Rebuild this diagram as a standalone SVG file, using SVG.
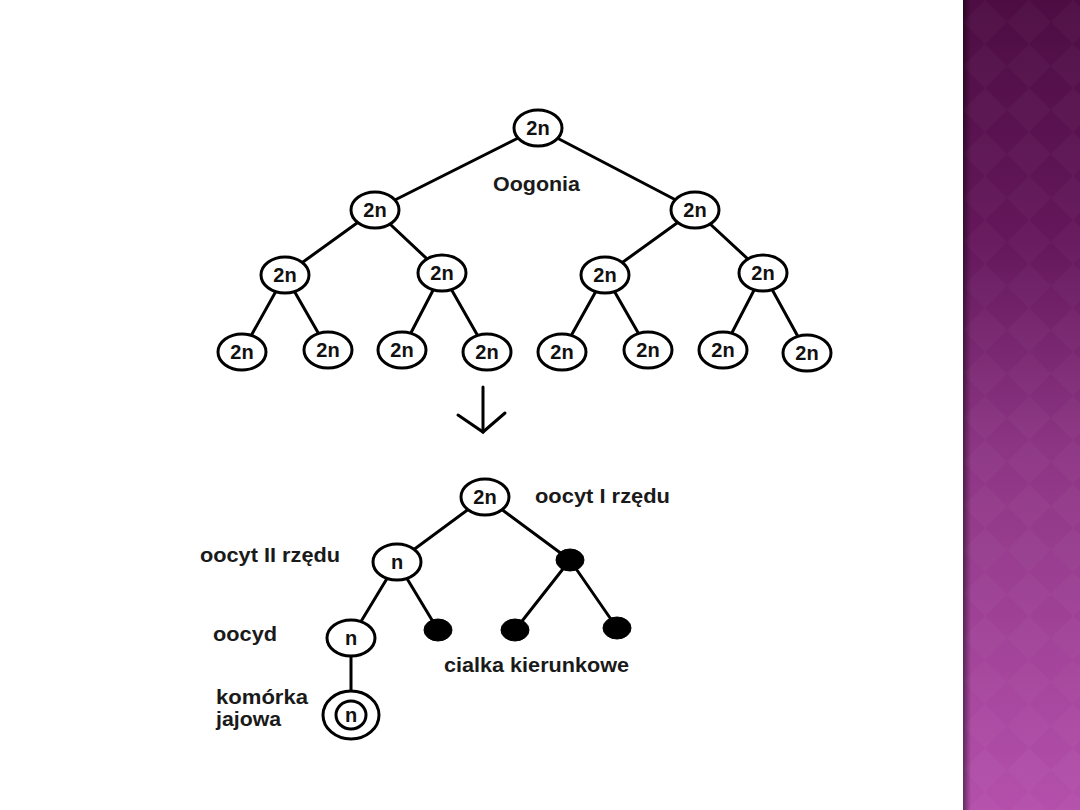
<svg xmlns="http://www.w3.org/2000/svg" width="1080" height="810" viewBox="0 0 1080 810">
  <style>
    .node ellipse { fill: #ffffff; stroke: #000000; stroke-width: 3; }
    .dot ellipse { fill: #000000; stroke: #000000; stroke-width: 1; }
    .lbl { font-family: "Liberation Sans", Arial, sans-serif; font-weight: bold; font-size: 20px; fill: #1a1a1a; }
    .nt { font-family: "Liberation Sans", Arial, sans-serif; font-weight: bold; font-size: 20px; fill: #111111; text-anchor: middle; }
    .edges line, .edges path { stroke: #000000; stroke-width: 3; fill: none; stroke-linecap: round; }
  </style>
  <defs>
    <linearGradient id="purple" x1="0" y1="0" x2="0" y2="1">
      <stop offset="0" stop-color="#4d0d43"/>
      <stop offset="0.3" stop-color="#65185c"/>
      <stop offset="0.55" stop-color="#8c3583"/>
      <stop offset="1" stop-color="#b450ab"/>
    </linearGradient>
    <linearGradient id="shadow" x1="0" y1="0" x2="1" y2="0">
      <stop offset="0" stop-color="#000000" stop-opacity="0.45"/>
      <stop offset="1" stop-color="#000000" stop-opacity="0"/>
    </linearGradient>
    <pattern id="diam" x="963" y="0" width="44" height="44" patternUnits="userSpaceOnUse">
      <polygon points="22,0 44,22 22,44 0,22" fill="#ffffff" fill-opacity="0.025"/>
    </pattern>
  </defs>

  <rect x="0" y="0" width="1080" height="810" fill="#ffffff"/>

  <g id="sidebar">
    <rect x="963" y="0" width="117" height="810" fill="url(#purple)"/>
    <rect x="963" y="0" width="117" height="810" fill="url(#diam)"/>
    <rect x="963" y="0" width="8" height="810" fill="url(#shadow)"/>
  </g>

  <g class="edges" id="connectors">
    <line x1="538" y1="128" x2="375" y2="210"/>
    <line x1="538" y1="128" x2="695" y2="210"/>
    <line x1="375" y1="210" x2="285" y2="275"/>
    <line x1="375" y1="210" x2="442" y2="273"/>
    <line x1="695" y1="210" x2="605" y2="275"/>
    <line x1="695" y1="210" x2="763" y2="273"/>
    <line x1="285" y1="275" x2="242" y2="352"/>
    <line x1="285" y1="275" x2="328" y2="350"/>
    <line x1="442" y1="273" x2="402" y2="350"/>
    <line x1="442" y1="273" x2="487" y2="352"/>
    <line x1="605" y1="275" x2="562" y2="352"/>
    <line x1="605" y1="275" x2="648" y2="350"/>
    <line x1="763" y1="273" x2="723" y2="350"/>
    <line x1="763" y1="273" x2="807" y2="353"/>
    <line x1="483" y1="387" x2="483" y2="432"/>
    <path d="M458,415 L483,432 L505,413"/>
    <line x1="485" y1="497" x2="397" y2="562"/>
    <line x1="485" y1="497" x2="570" y2="560"/>
    <line x1="397" y1="562" x2="351" y2="638"/>
    <line x1="397" y1="562" x2="438" y2="630"/>
    <line x1="570" y1="560" x2="515" y2="630"/>
    <line x1="570" y1="560" x2="617" y2="628"/>
    <line x1="351" y1="638" x2="351" y2="715"/>
  </g>

  <g id="n-root" class="node"><ellipse cx="538" cy="128" rx="24" ry="18"/><text class="nt" x="538" y="135">2n</text></g>
  <g id="n-l2a" class="node"><ellipse cx="375" cy="210" rx="24" ry="18"/><text class="nt" x="375" y="217">2n</text></g>
  <g id="n-l2b" class="node"><ellipse cx="695" cy="210" rx="24" ry="18"/><text class="nt" x="695" y="217">2n</text></g>
  <g id="n-l3a" class="node"><ellipse cx="285" cy="275" rx="24" ry="18"/><text class="nt" x="285" y="282">2n</text></g>
  <g id="n-l3b" class="node"><ellipse cx="442" cy="273" rx="24" ry="18"/><text class="nt" x="442" y="280">2n</text></g>
  <g id="n-l3c" class="node"><ellipse cx="605" cy="275" rx="24" ry="18"/><text class="nt" x="605" y="282">2n</text></g>
  <g id="n-l3d" class="node"><ellipse cx="763" cy="273" rx="24" ry="18"/><text class="nt" x="763" y="280">2n</text></g>
  <g id="n-l4a" class="node"><ellipse cx="242" cy="352" rx="24" ry="18"/><text class="nt" x="242" y="359">2n</text></g>
  <g id="n-l4b" class="node"><ellipse cx="328" cy="350" rx="24" ry="18"/><text class="nt" x="328" y="357">2n</text></g>
  <g id="n-l4c" class="node"><ellipse cx="402" cy="350" rx="24" ry="18"/><text class="nt" x="402" y="357">2n</text></g>
  <g id="n-l4d" class="node"><ellipse cx="487" cy="352" rx="24" ry="18"/><text class="nt" x="487" y="359">2n</text></g>
  <g id="n-l4e" class="node"><ellipse cx="562" cy="352" rx="24" ry="18"/><text class="nt" x="562" y="359">2n</text></g>
  <g id="n-l4f" class="node"><ellipse cx="648" cy="350" rx="24" ry="18"/><text class="nt" x="648" y="357">2n</text></g>
  <g id="n-l4g" class="node"><ellipse cx="723" cy="350" rx="24" ry="18"/><text class="nt" x="723" y="357">2n</text></g>
  <g id="n-l4h" class="node"><ellipse cx="807" cy="353" rx="24" ry="18"/><text class="nt" x="807" y="360">2n</text></g>

  <g id="n-oocyt1" class="node"><ellipse cx="485" cy="497" rx="24" ry="18"/><text class="nt" x="485" y="504">2n</text></g>
  <g id="n-oocyt2" class="node"><ellipse cx="397" cy="562" rx="24" ry="18"/><text class="nt" x="397" y="569">n</text></g>
  <g id="n-oocyd" class="node"><ellipse cx="351" cy="638" rx="24" ry="18"/><text class="nt" x="351" y="645">n</text></g>
  <g id="n-egg" class="node"><ellipse cx="351" cy="715" rx="28" ry="24"/><ellipse cx="351" cy="715" rx="15" ry="14"/><text class="nt" x="351" y="722">n</text></g>
  <g id="d-1" class="dot"><ellipse cx="570" cy="560" rx="14" ry="11"/></g>
  <g id="d-2" class="dot"><ellipse cx="438" cy="630" rx="14" ry="11"/></g>
  <g id="d-3" class="dot"><ellipse cx="515" cy="630" rx="14" ry="11"/></g>
  <g id="d-4" class="dot"><ellipse cx="617" cy="628" rx="14" ry="11"/></g>

  <g id="labels">
    <text class="lbl" x="493" y="191" textLength="87" lengthAdjust="spacingAndGlyphs">Oogonia</text>
    <text class="lbl" x="535" y="503" textLength="135" lengthAdjust="spacingAndGlyphs">oocyt I rzędu</text>
    <text class="lbl" x="200" y="562" textLength="140" lengthAdjust="spacingAndGlyphs">oocyt II rzędu</text>
    <text class="lbl" x="213" y="641" textLength="64" lengthAdjust="spacingAndGlyphs">oocyd</text>
    <text class="lbl" x="444" y="672" textLength="185" lengthAdjust="spacingAndGlyphs">cialka kierunkowe</text>
    <text class="lbl" x="216" y="704" textLength="92" lengthAdjust="spacingAndGlyphs">komórka</text>
    <text class="lbl" x="216" y="726" textLength="65" lengthAdjust="spacingAndGlyphs">jajowa</text>
  </g>
</svg>
